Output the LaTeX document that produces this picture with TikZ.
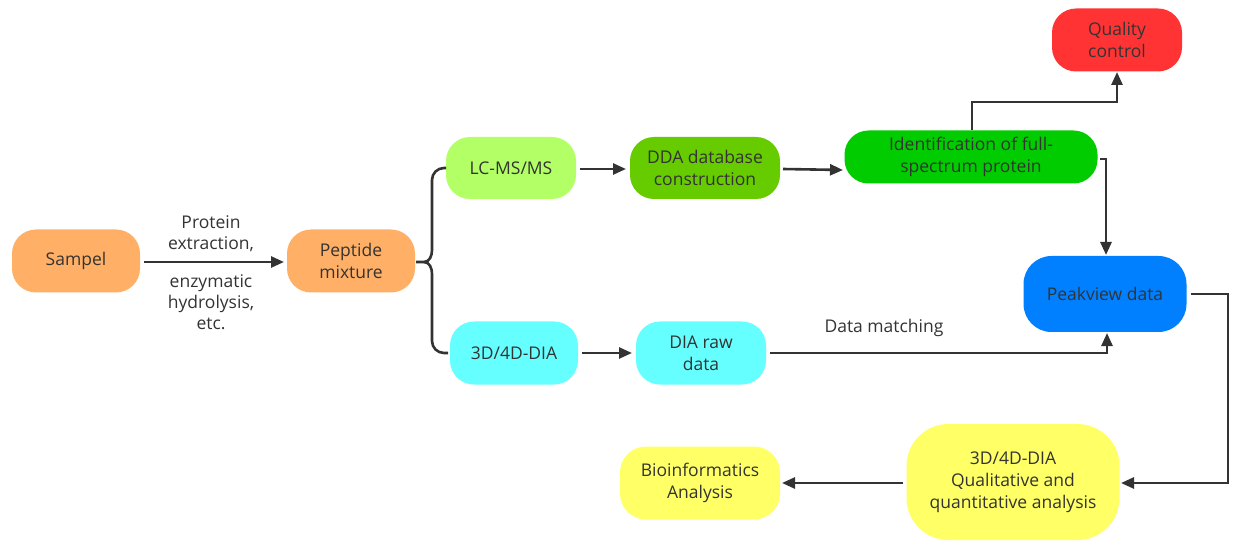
\documentclass[tikz,border=0pt]{standalone}
\usepackage{fontspec}
\setmainfont{Open Sans}
\usetikzlibrary{arrows.meta}
\definecolor{txt}{HTML}{333333}
\definecolor{ln}{HTML}{333333}
\definecolor{corange}{HTML}{FFB066}
\definecolor{clgreen}{HTML}{B3FF66}
\definecolor{cgreen}{HTML}{66CC00}
\definecolor{cgreen2}{HTML}{00CC00}
\definecolor{cred}{HTML}{FF3333}
\definecolor{cblue}{HTML}{0080FF}
\definecolor{ccyan}{HTML}{66FFFF}
\definecolor{cyellow}{HTML}{FFFF66}
\begin{document}
\begin{tikzpicture}[x=1pt,y=-1pt,
  box/.style={rectangle, rounded corners=24pt, draw=none, text=txt, align=center,
    font=\fontsize{17.5}{22}\selectfont, inner sep=0pt},
  lbl/.style={text=txt, align=center, font=\fontsize{17.5}{21}\selectfont, inner sep=0pt},
  conn/.style={draw=ln, line width=2.6pt},
  arr/.style={conn, -{Triangle[length=13pt,width=11pt]}}
]
\useasboundingbox (0,0) rectangle (1245,553);
\fill[white] (0,0) rectangle (1245,553);

\node[box, fill=corange, minimum width=128pt, minimum height=63pt] (s) at (76,261) {Sampel};
\node[box, fill=corange, minimum width=128pt, minimum height=63pt] (p) at (351,261) {Peptide\\mixture};
\node[box, fill=clgreen, minimum width=130pt, minimum height=62pt] (lc) at (511,168) {LC-MS/MS};
\node[box, fill=cgreen, minimum width=150pt, minimum height=62pt] (dda) at (705,168) {DDA database\\construction};
\node[box, fill=cgreen2, minimum width=253pt, minimum height=53pt] (id) at (971,157) {Identification of full-\\spectrum protein};
\node[box, fill=cred, minimum width=130pt, minimum height=63pt] (qc) at (1117,40) {Quality\\control};
\node[box, fill=cblue, minimum width=163pt, minimum height=76pt, rounded corners=28pt] (pv) at (1105,294) {Peakview data};
\node[box, fill=ccyan, minimum width=128pt, minimum height=63pt] (dia) at (514,353) {3D/4D-DIA};
\node[box, fill=ccyan, minimum width=130pt, minimum height=63pt] (raw) at (701,353) {DIA raw\\data};
\node[box, fill=cyellow, minimum width=213pt, minimum height=116pt, rounded corners=42pt] (qa) at (1013,482) {3D/4D-DIA\\Qualitative and\\quantitative analysis};
\node[box, fill=cyellow, minimum width=160pt, minimum height=73pt, rounded corners=26pt] (bio) at (700,483) {Bioinformatics\\Analysis};

% Sampel -> Peptide
\coordinate (s1) at (144,262);
\coordinate (p1) at (284,262);
\draw[arr] (s1) -- (p1);
\node[lbl] (l1) at (211,234) {Protein\\extraction,};
\node[lbl] (l2) at (211,302) {enzymatic\\hydrolysis,\\etc.};

% brace split
\coordinate (b0) at (416,262);
\coordinate (bt) at (446,168);
\coordinate (bb) at (448,353);
\draw[conn] (b0) -- (424,262) to[out=0,in=-90] (432,250) -- (432,180) to[out=90,in=180] (444,168) -- (bt);
\draw[conn] (424,262) to[out=0,in=90] (432,274) -- (432,341) to[out=-90,in=180] (444,353) -- (bb);

% LC -> DDA
\coordinate (lce) at (580,169);
\coordinate (ddaw) at (626,169);
\draw[arr] (lce) -- (ddaw);
% DIA -> raw
\coordinate (diae) at (582,353);
\coordinate (raww) at (632,353);
\draw[arr] (diae) -- (raww);
% DDA -> ID
\coordinate (ddae) at (783,169);
\coordinate (idw) at (843,170);
\draw[arr] (ddae) -- (idw);
% ID -> QC
\coordinate (idt) at (972,130);
\coordinate (qcb) at (1117,72);
\draw[arr] (idt) -- (972,102) -- (1117,102) -- (qcb);
% ID -> PV
\coordinate (ide) at (1100,159);
\coordinate (pvt) at (1106,255);
\draw[arr] (ide) -- (1106,159) -- (pvt);
% raw -> PV
\coordinate (rawe) at (770,353);
\coordinate (pvb) at (1107,333);
\draw[arr] (rawe) -- (1107,353) -- (pvb);
\node[lbl] (dm) at (884,328) {Data matching};
% PV -> QA
\coordinate (pve) at (1191,294);
\coordinate (qae) at (1121,483);
\draw[arr] (pve) -- (1228,294) -- (1228,483) -- (qae);
% QA -> Bio
\coordinate (qaw) at (903,483);
\coordinate (bioe) at (782,483);
\draw[arr] (qaw) -- (bioe);
\end{tikzpicture}
\end{document}
